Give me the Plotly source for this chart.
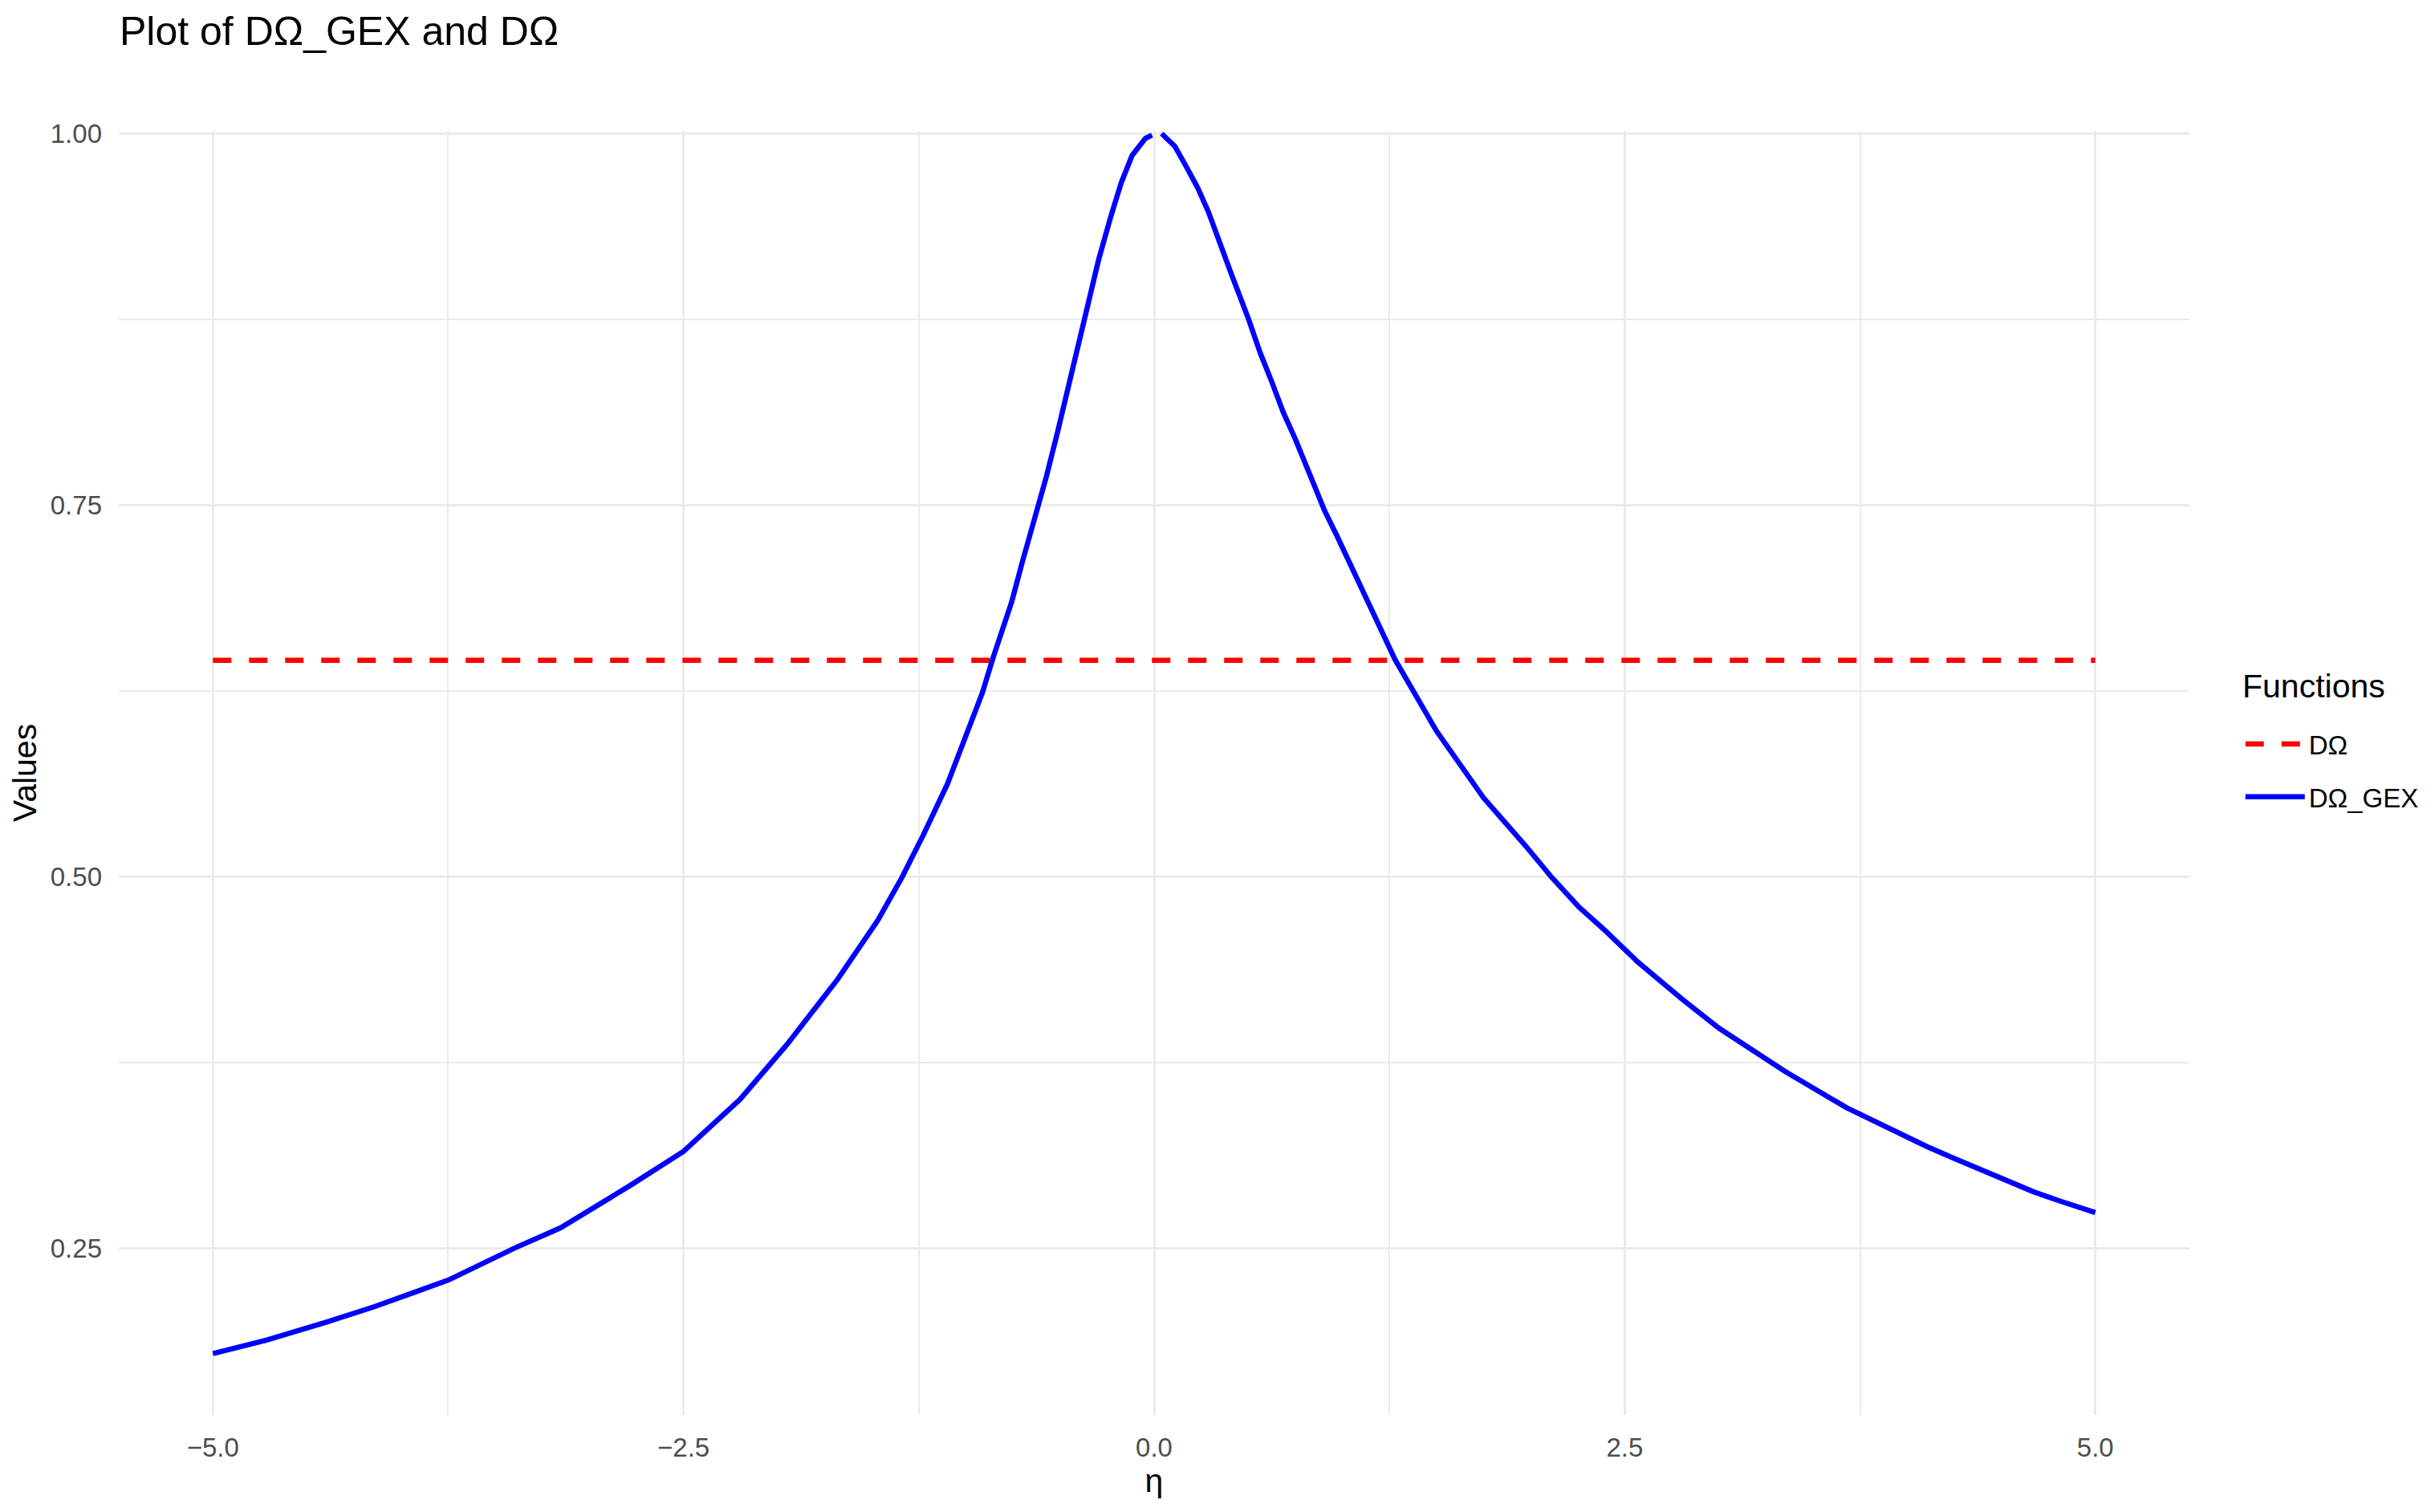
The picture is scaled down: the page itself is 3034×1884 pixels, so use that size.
import plotly.graph_objects as go

# ---- data ----
eta_gex = [-5.000, -4.716, -4.400, -4.140, -3.750, -3.397, -3.154, -2.783, -2.500, -2.200,
           -1.950, -1.681, -1.468, -1.340, -1.226, -1.098, -0.984, -0.913, -0.856, -0.757,
           -0.700, -0.658, -0.572, -0.515, -0.458, -0.416, -0.359, -0.295, -0.231, -0.174,
           -0.117, -0.046, -0.011, 0.015, 0.040, 0.110, 0.170, 0.231, 0.288, 0.345,
           0.409, 0.501, 0.565, 0.622, 0.686, 0.750, 0.814, 0.871, 0.906, 0.970,
           1.100, 1.280, 1.500, 1.750, 1.972, 2.114, 2.257, 2.399, 2.569, 2.800,
           3.000, 3.350, 3.678, 3.820, 3.962, 4.104, 4.246, 4.389, 4.531, 4.673,
           4.815, 5.000]
d_omega_gex = [0.179, 0.188, 0.200, 0.2106, 0.2284, 0.250, 0.2635, 0.2921, 0.315, 0.350,
               0.387, 0.4309, 0.4705, 0.4993, 0.528, 0.5623, 0.600, 0.6235, 0.647, 0.6847,
               0.7117, 0.7297, 0.7693, 0.798, 0.8287, 0.850, 0.879, 0.915, 0.9438, 0.9672,
               0.9853, 0.9969, 0.9990, None, 1.000, 0.9915, 0.978, 0.9637, 0.9475, 0.9267,
               0.906, 0.8754, 0.852, 0.834, 0.8125, 0.7945, 0.7755, 0.7567, 0.7462, 0.7297,
               0.6946, 0.646, 0.598, 0.553, 0.5209, 0.4992, 0.4795, 0.4633, 0.4426, 0.418,
               0.398, 0.369, 0.3445, 0.3355, 0.3274, 0.3184, 0.3105, 0.3028, 0.295, 0.2878,
               0.2815, 0.2739]
eta_ref = [-5.0, 5.0]
d_omega = [0.6456, 0.6456]

x_ticks = [-5.0, -2.5, 0.0, 2.5, 5.0]
x_labels = ["\u22125.0", "\u22122.5", "0.0", "2.5", "5.0"]
x_minor = [-3.75, -1.25, 1.25, 3.75]
y_ticks = [0.25, 0.50, 0.75, 1.00]
y_labels = ["0.25", "0.50", "0.75", "1.00"]
y_minor = [0.375, 0.625, 0.875]

FONT = "Liberation Sans, Arial, sans-serif"
GRID = "#EBEBEB"

fig = go.Figure()
fig.add_trace(go.Scatter(
    x=eta_ref, y=d_omega, mode="lines", name="D\u03a9",
    legendgroup="a",
    line=dict(color="#FF0000", width=6.5, dash="23px,22px"),
))
fig.add_trace(go.Scatter(
    x=eta_gex, y=d_omega_gex, mode="lines", name="D\u03a9_GEX",
    legendgroup="b", connectgaps=False,
    line=dict(color="#0000FF", width=6.5),
))

fig.update_layout(
    width=3034, height=1884,
    paper_bgcolor="white", plot_bgcolor="white",
    margin=dict(l=140, r=314, t=155, b=129, autoexpand=False),
    font=dict(family=FONT, color="black"),
    title=dict(
        text="Plot of D\u03a9_GEX and D\u03a9",
        font=dict(size=50, color="black", family=FONT),
        xref="container", x=141 / 3034, xanchor="left",
        yref="container", y=1 - 13 / 1884, yanchor="top",
        automargin=False,
    ),
    legend=dict(
        font=dict(size=33, color="black"),
        x=1.0251, xanchor="left", y=0.540, yanchor="top",
        traceorder="grouped", tracegroupgap=20,
        itemwidth=74,
        bgcolor="rgba(0,0,0,0)",
    ),
    showlegend=True,
    annotations=[dict(
        text="Functions", xref="paper", yref="paper",
        x=1.0248, xanchor="left", y=0.5675, yanchor="middle",
        showarrow=False, font=dict(size=41, color="black", family=FONT),
    )],
)

fig.update_xaxes(
    range=[-5.5, 5.5], automargin=False,
    tickmode="array", tickvals=x_ticks, ticktext=x_labels,
    tickfont=dict(size=33, color="#4D4D4D"),
    showgrid=True, gridcolor=GRID, gridwidth=3,
    minor=dict(tickmode="array", tickvals=x_minor, showgrid=True, gridcolor=GRID, gridwidth=2),
    zeroline=False, showline=False, ticks="",
    ticklabelstandoff=18,
    title=dict(text="\u03b7", font=dict(size=41, color="black"), standoff=4),
)
fig.update_yaxes(
    range=[0.1377, 1.0019], automargin=False,
    tickmode="array", tickvals=y_ticks, ticktext=y_labels,
    tickfont=dict(size=33, color="#4D4D4D"),
    showgrid=True, gridcolor=GRID, gridwidth=3,
    minor=dict(tickmode="array", tickvals=y_minor, showgrid=True, gridcolor=GRID, gridwidth=2),
    zeroline=False, showline=False, ticks="",
    ticklabelstandoff=20,
    title=dict(text="Values", font=dict(size=41, color="black"), standoff=4),
)

fig.write_html("out.html")
